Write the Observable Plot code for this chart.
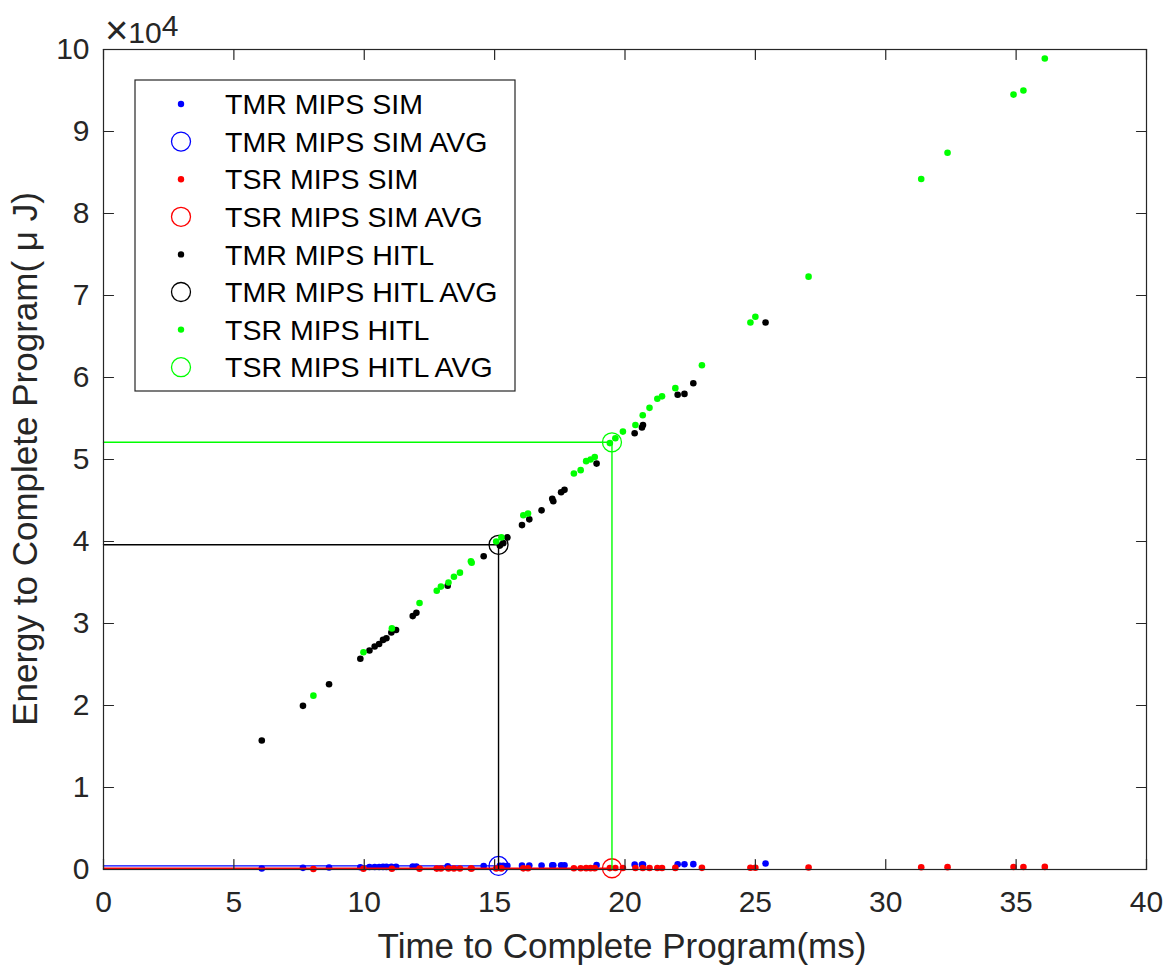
<!DOCTYPE html>
<html><head><meta charset="utf-8">
<script src="https://cdn.jsdelivr.net/npm/d3@7"></script>
<script src="https://cdn.jsdelivr.net/npm/@observablehq/plot@0.6"></script>
<style>body{margin:0;background:#fff}</style>
</head><body><div id="chart"></div><script>
// ---- data (time in ms, energy in µJ) ----
const tmrTime = [6.07, 7.65, 8.65, 9.85, 10.2, 10.4, 10.57, 10.72, 10.85, 11.04, 11.22, 11.86, 12.0, 13.2, 14.58, 15.2, 15.33, 15.49, 16.05, 16.33, 16.8, 17.21, 17.25, 17.55, 17.68, 18.91, 20.37, 20.65, 20.69, 22.02, 22.28, 22.62, 25.39];
const tmrHitl = [15730, 19960, 22600, 25700, 26700, 27200, 27500, 28000, 28200, 28900, 29200, 30900, 31300, 34600, 38200, 39500, 39800, 40500, 42000, 42700, 43800, 45200, 44900, 46000, 46300, 49500, 53200, 53900, 54200, 57900, 58000, 59300, 66700];
const tmrSim = [120, 200, 245, 280, 300, 305, 310, 315, 315, 320, 325, 345, 350, 380, 420, 440, 445, 450, 470, 480, 490, 500, 505, 510, 515, 550, 590, 600, 600, 640, 645, 655, 735];

const tsrTime = [8.05, 9.97, 11.06, 12.12, 12.78, 12.94, 13.23, 13.44, 13.67, 14.09, 14.12, 15.06, 15.26, 16.1, 16.28, 18.04, 18.3, 18.51, 18.68, 18.84, 19.42, 19.63, 19.92, 20.4, 20.68, 20.94, 21.24, 21.42, 21.93, 22.95, 24.81, 25.0, 27.04, 31.36, 32.37, 34.9, 35.28, 36.1];
const tsrHitl = [21200, 26500, 29400, 32500, 34000, 34500, 35000, 35700, 36200, 37600, 37400, 40000, 40500, 43200, 43400, 48300, 48700, 49800, 50000, 50300, 52000, 52600, 53400, 54200, 55400, 56300, 57400, 57700, 58700, 61500, 66700, 67400, 72300, 84200, 87400, 94500, 95000, 98900];
const tsrSim = [70, 90, 100, 105, 110, 115, 115, 120, 120, 125, 125, 130, 135, 140, 145, 160, 160, 165, 165, 165, 170, 175, 175, 180, 180, 185, 185, 190, 195, 200, 220, 220, 240, 275, 285, 305, 310, 320];

// series order: TMR SIM, TSR SIM, TMR HITL, TSR HITL
const seriesNames = ["TMR MIPS SIM", "TSR MIPS SIM", "TMR MIPS HITL", "TSR MIPS HITL"];
const seriesColors = ["#0000ff", "#ff0000", "#000000", "#00ff00"];
const avgTime = [15.15, 19.5, 15.15, 19.5];
const avgEnergy = [440, 150, 39600, 52100];

const xTicks = [0, 5, 10, 15, 20, 25, 30, 35, 40];
const yTicks = [0, 10000, 20000, 30000, 40000, 50000, 60000, 70000, 80000, 90000, 100000];

const seriesTimes = [tmrTime, tsrTime, tmrTime, tsrTime];
const seriesEnergies = [tmrSim, tsrSim, tmrHitl, tsrHitl];

const ink = "#262626";
const tickShape = {draw(ctx, l) { ctx.moveTo(0, 0); ctx.lineTo(0, -l); }};

const marks = [];
seriesNames.forEach((name, i) => {
  const pts = seriesTimes[i].map((t, j) => ({t, e: seriesEnergies[i][j]}));
  const avg = [{t: avgTime[i], e: avgEnergy[i]}];
  const path = [{t: 0, e: avgEnergy[i]}, {t: avgTime[i], e: avgEnergy[i]}, {t: avgTime[i], e: 0}];
  marks.push(Plot.dot(pts, {x: "t", y: "e", r: 3.3, fill: seriesColors[i], stroke: null}));
  marks.push(Plot.line(path, {x: "t", y: "e", stroke: seriesColors[i], strokeWidth: 1.4}));
  marks.push(Plot.dot(avg, {x: "t", y: "e", r: 9.5, fill: "none", stroke: seriesColors[i], strokeWidth: 1.3}));
});

const chart = Plot.plot({
  width: 1167, height: 970,
  marginLeft: 103, marginRight: 21, marginTop: 49, marginBottom: 101,
  style: {fontFamily: "'Liberation Sans', Arial, Helvetica, sans-serif", fontSize: "30px", background: "white", color: ink},
  x: {domain: [0, 40], label: null},
  y: {domain: [0, 100000], label: null},
  marks: [
    ...marks,
    Plot.frame({stroke: ink, strokeWidth: 1.2}),
    Plot.vector(xTicks, {x: d => d, y: () => 0, length: 10, rotate: 0, anchor: "start", shape: tickShape, stroke: ink, strokeWidth: 1.2}),
    Plot.vector(xTicks, {x: d => d, y: () => 100000, length: 10, rotate: 180, anchor: "start", shape: tickShape, stroke: ink, strokeWidth: 1.2}),
    Plot.vector(yTicks, {x: () => 0, y: d => d, length: 10, rotate: 90, anchor: "start", shape: tickShape, stroke: ink, strokeWidth: 1.2}),
    Plot.vector(yTicks, {x: () => 40, y: d => d, length: 10, rotate: -90, anchor: "start", shape: tickShape, stroke: ink, strokeWidth: 1.2}),
    Plot.axisX(xTicks, {tickSize: 0, tickPadding: 21, fontSize: 30, label: null}),
    Plot.axisY(yTicks, {tickSize: 0, tickPadding: 14, fontSize: 30, label: null, tickFormat: d => d / 10000})
  ]
});
document.getElementById("chart").appendChild(chart);

const svg = d3.select(chart);
// axis labels
svg.append("text").attr("x", 622).attr("y", 958).attr("text-anchor", "middle")
  .attr("font-size", 35).attr("fill", ink).text("Time to Complete Program(ms)");
svg.append("text").attr("transform", "translate(37,459) rotate(-90)").attr("text-anchor", "middle")
  .attr("font-size", 35).attr("fill", ink).text("Energy to Complete Program( \u03bc J)");
// exponent
const ex = svg.append("text").attr("x", 105).attr("y", 43).attr("text-anchor", "start")
  .attr("font-size", 30).attr("fill", ink);
ex.append("tspan").attr("font-size", 40).attr("dy", 1).text("\u00d7");
ex.append("tspan").attr("dy", -1).text("10");
ex.append("tspan").attr("dy", -7).text("4");

// legend
const legendLabels = ["TMR MIPS SIM", "TMR MIPS SIM AVG", "TSR MIPS SIM", "TSR MIPS SIM AVG", "TMR MIPS HITL", "TMR MIPS HITL AVG", "TSR MIPS HITL", "TSR MIPS HITL AVG"];
const lg = svg.append("g");
lg.append("rect").attr("x", 135).attr("y", 80).attr("width", 380).attr("height", 311)
  .attr("fill", "white").attr("stroke", ink).attr("stroke-width", 1.2);
legendLabels.forEach((lab, k) => {
  const y = 104 + k * 37.6;
  const c = seriesColors[Math.floor(k / 2)];
  const isAvg = k % 2 === 1;
  lg.append("circle").attr("cx", 181).attr("cy", y).attr("r", isAvg ? 9.5 : 3.2)
    .attr("fill", isAvg ? "none" : c).attr("stroke", isAvg ? c : "none").attr("stroke-width", 1.3);
  lg.append("text").attr("x", 225).attr("y", y).attr("dy", "0.36em").attr("text-anchor", "start")
    .attr("font-size", 28.5).attr("fill", "#000").text(lab);
});
</script></body></html>
